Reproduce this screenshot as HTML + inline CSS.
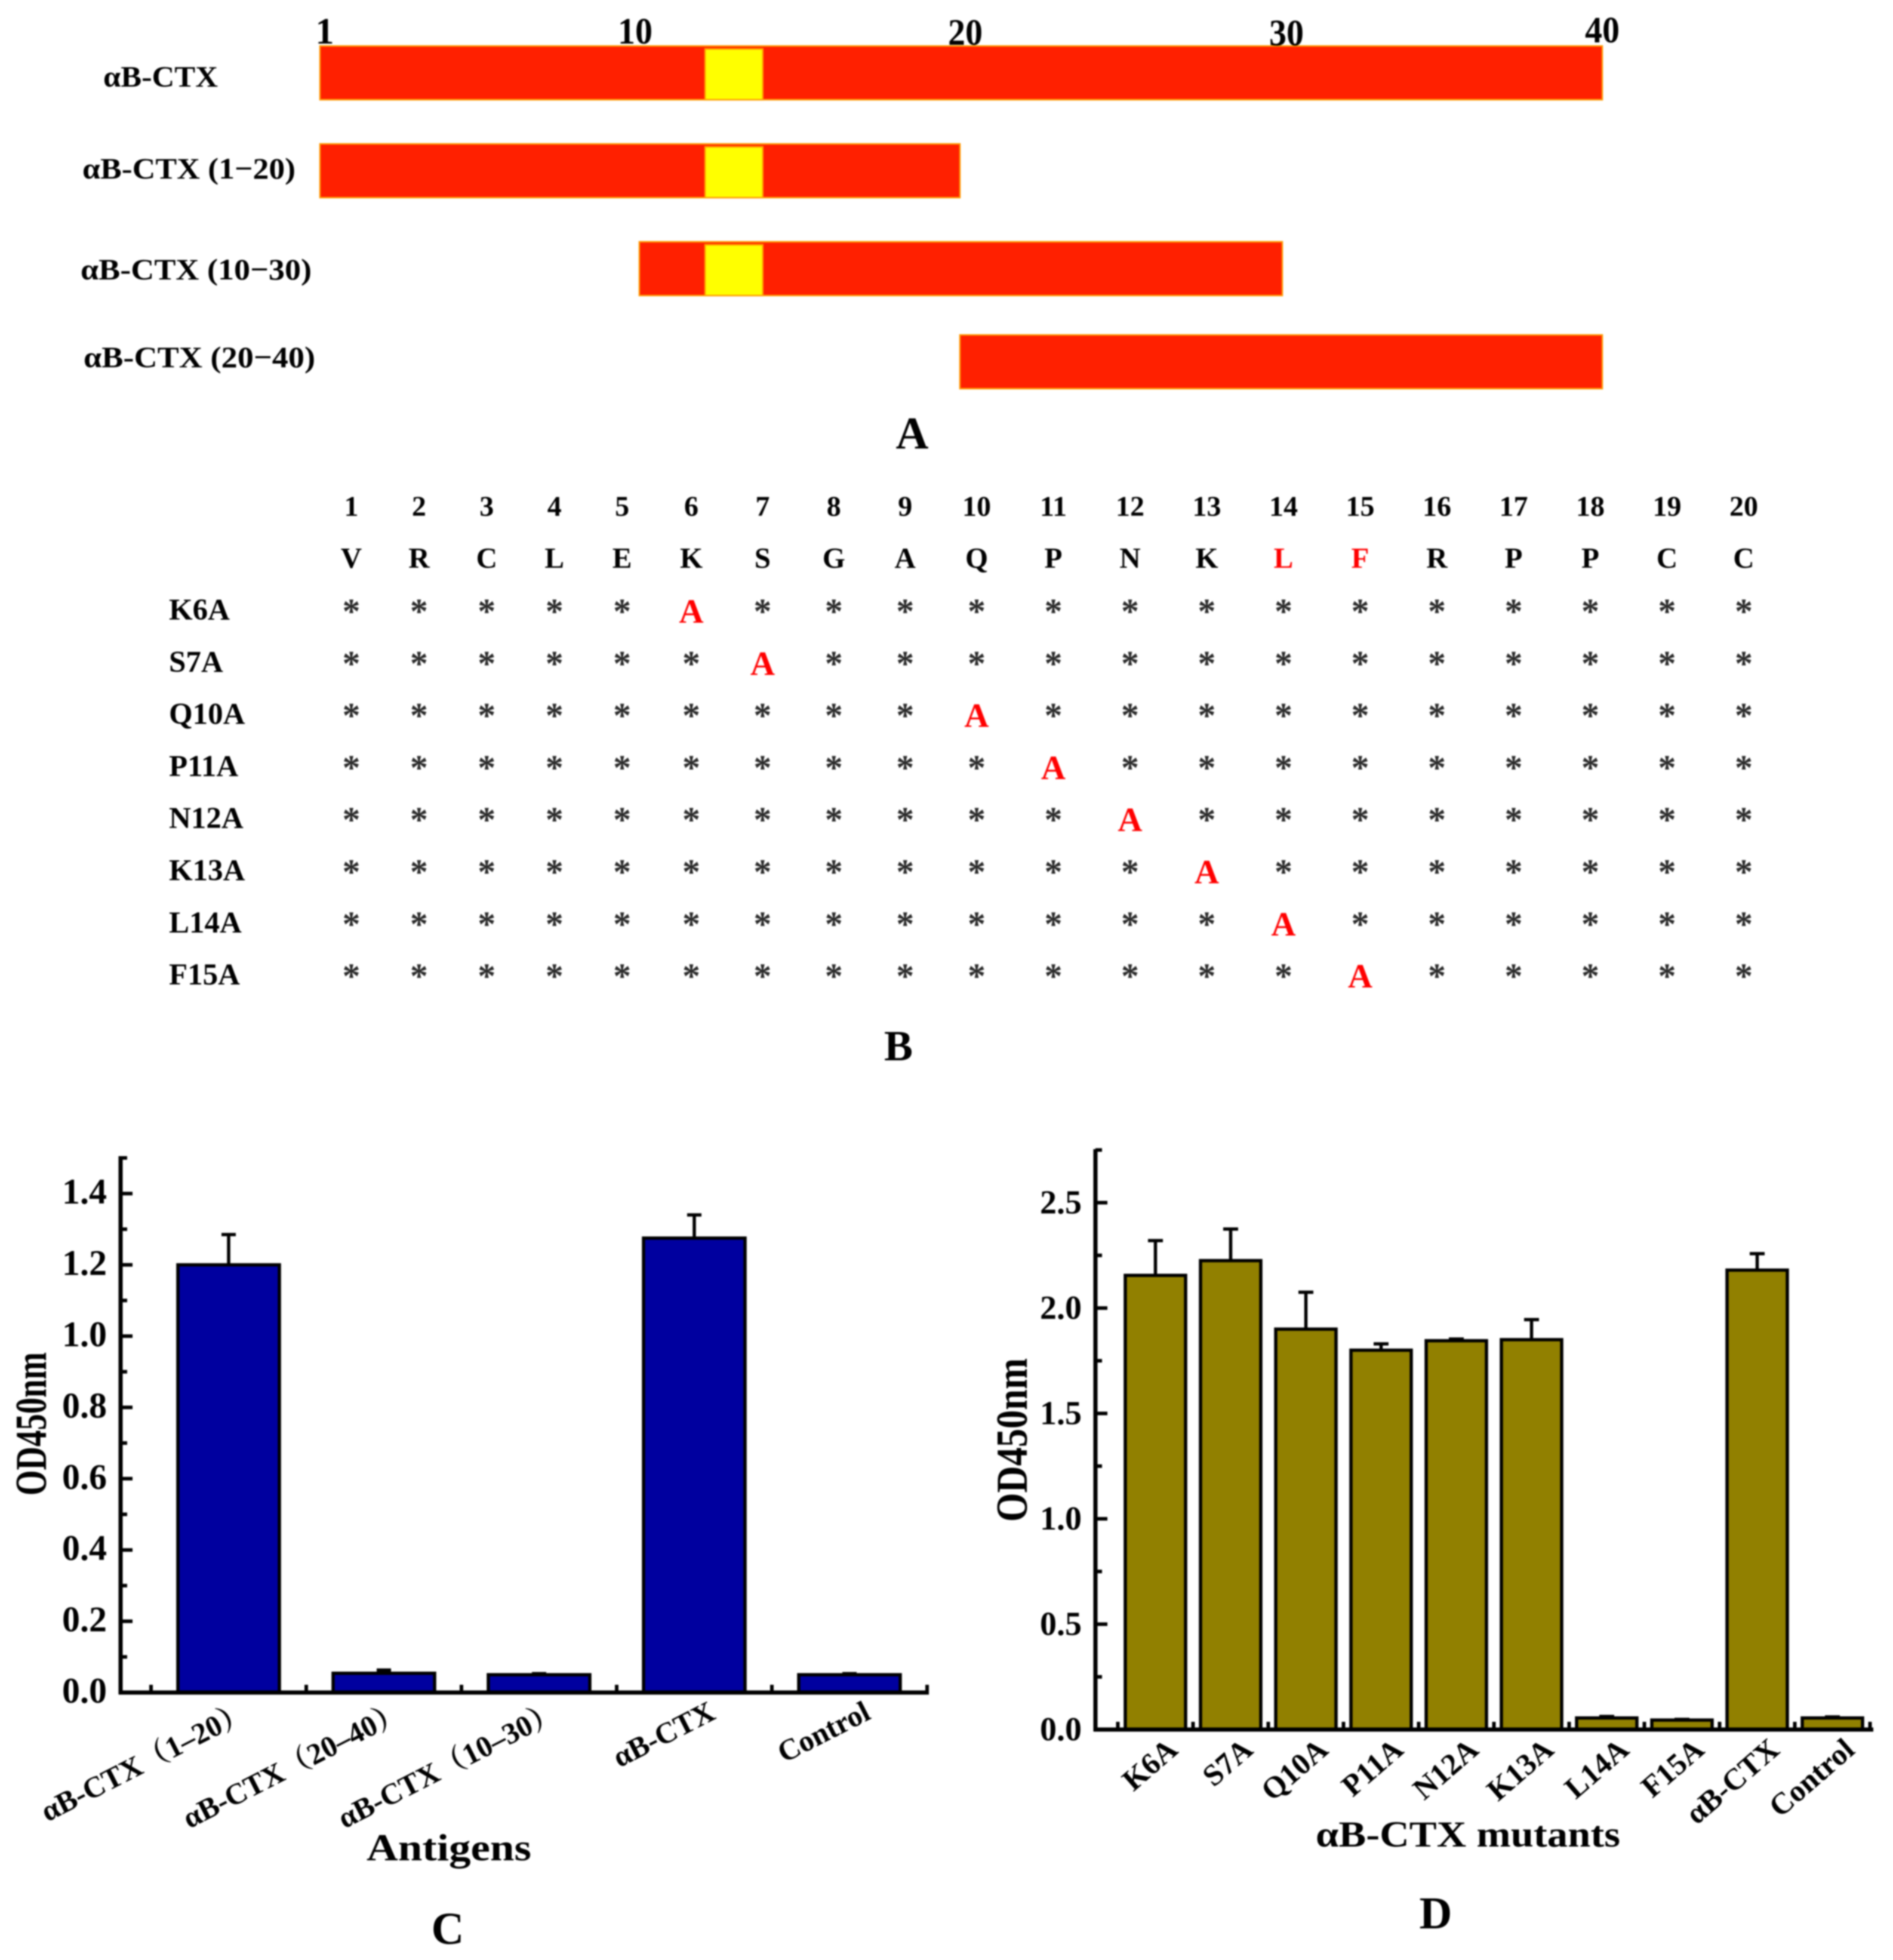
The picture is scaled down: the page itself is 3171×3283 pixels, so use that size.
<!DOCTYPE html>
<html lang="en">
<head>
<meta charset="utf-8">
<title>αB-CTX epitope mapping figure</title>
<style>
html,body{margin:0;padding:0;background:#fff;}
svg{display:block;filter:blur(1.4px);}
text{font-family:"Liberation Serif","Noto Serif CJK SC",serif;font-weight:bold;fill:#000;}
</style>
</head>
<body>
<svg id="fig" xmlns="http://www.w3.org/2000/svg" width="3171" height="3283" viewBox="0 0 3171 3283">
  <rect x="0" y="0" width="3171" height="3283" fill="#ffffff"/>
  <g id="panelA"></g>
  <g id="panelB"></g>
  <g id="panelC"></g>
  <g id="panelD"></g>

  <text x="1528" y="751" font-size="76" text-anchor="middle">A</text>
  <text x="1505" y="1776" font-size="72" text-anchor="middle">B</text>
  <text x="750" y="3256" font-size="76" text-anchor="middle">C</text>
  <text x="2405" y="3230" font-size="76" text-anchor="middle">D</text>

  <text transform="translate(77,2385) rotate(-90)" font-size="74" text-anchor="middle" textLength="240" lengthAdjust="spacingAndGlyphs">OD450nm</text>
  <text transform="translate(1720,2412) rotate(-90)" font-size="74" text-anchor="middle" textLength="274" lengthAdjust="spacingAndGlyphs">OD450nm</text>
  <text x="614" y="3116" font-size="63" textLength="276" lengthAdjust="spacingAndGlyphs">Antigens</text>
  <text x="2204" y="3093" font-size="61" textLength="510" lengthAdjust="spacingAndGlyphs">αB-CTX mutants</text>
</svg>
<script>
/* Panel A data */
var fragLabels = ["αB-CTX", "αB-CTX (1−20)", "αB-CTX (10−30)", "αB-CTX (20−40)"];
var fragStarts = [1, 1, 10, 20];
var fragEnds = [40, 20, 30, 40];
var fragHasEpitope = [true, true, true, false];
var epitopeStart = 12.05;
var epitopeEnd = 13.85;
var residueTicks = [1, 10, 20, 30, 40];

/* Panel B data */
var residueNumbers = ["1","2","3","4","5","6","7","8","9","10","11","12","13","14","15","16","17","18","19","20"];
var residueLetters = ["V","R","C","L","E","K","S","G","A","Q","P","N","K","L","F","R","P","P","C","C"];
var highlightedResidues = [14, 15];
var mutantNames = ["K6A","S7A","Q10A","P11A","N12A","K13A","L14A","F15A"];
var mutantResidues = [6, 7, 10, 11, 12, 13, 14, 15];

/* Panel C data */
var cCategories = ["αB-CTX（1–20）", "αB-CTX（20–40）", "αB-CTX（10–30）", "αB-CTX", "Control"];
var cValues = [1.2, 0.054, 0.05, 1.275, 0.05];
var cErrors = [0.085, 0.009, 0.003, 0.065, 0.003];
var cTickLabels = ["0.0", "0.2", "0.4", "0.6", "0.8", "1.0", "1.2", "1.4"];

/* Panel D data */
var dCategories = ["K6A", "S7A", "Q10A", "P11A", "N12A", "K13A", "L14A", "F15A", "αB-CTX", "Control"];
var dValues = [2.155, 2.225, 1.9, 1.8, 1.845, 1.85, 0.055, 0.045, 2.18, 0.055];
var dErrors = [0.165, 0.15, 0.175, 0.03, 0.008, 0.095, 0.007, 0.003, 0.078, 0.005];
var dTickLabels = ["0.0", "0.5", "1.0", "1.5", "2.0", "2.5"];

var NS = "http://www.w3.org/2000/svg";
function mk(tag, attrs, parent, txt) {
  var el = document.createElementNS(NS, tag);
  for (var k in attrs) { el.setAttribute(k, attrs[k]); }
  if (txt !== undefined) { el.textContent = txt; }
  parent.appendChild(el);
  return el;
}

/* ---------- Panel A ---------- */
var panelA = document.getElementById("panelA");
function aaX(n) {
  if (n <= 10) return 536 + (n - 1) * 59.44;
  if (n <= 20) return 1071 + (n - 10) * 53.7;
  if (n <= 30) return 1608 + (n - 20) * 54;
  return 2148 + (n - 30) * 53.6;
}
function rowTop(i) { return i < 3 ? 77 + 164 * i : 561; }
function tickLabelX(n) {
  if (n === 1) return aaX(n) + 8;
  if (n === 10) return aaX(n) - 7;
  if (n === 20) return aaX(n) + 9;
  if (n === 30) return aaX(n) + 7;
  return aaX(n);
}
function tickLabelY(n) {
  if (n === 1 || n === 10) return 73;
  if (n === 20) return 75;
  if (n === 30) return 76;
  return 71;
}
var aLabelLeft = [173, 138, 135, 140];
var aLabelLen = [192, 357, 387, 388];
var aLabelBase = [145, 299, 468, 615];
fragLabels.forEach(function (label, i) {
  var t = mk("text", {x: aLabelLeft[i], y: aLabelBase[i], "font-size": 50, textLength: aLabelLen[i], lengthAdjust: "spacingAndGlyphs"}, panelA, label);
  
  
  var x0 = aaX(fragStarts[i]), x1 = aaX(fragEnds[i]), y = rowTop(i);
  var r = mk("rect", {x: x0, y: y, width: x1 - x0, height: 90, fill: "#ff2000", stroke: "#ff9a00", "stroke-width": 2.5}, panelA);
  
  
  if (fragHasEpitope[i]) {
    var ex0 = aaX(epitopeStart), ex1 = aaX(epitopeEnd);
    var e = mk("rect", {x: ex0, y: y + 5, width: ex1 - ex0, height: 85, fill: "#ffff00", stroke: "#ffa000", "stroke-width": 2.5}, panelA);
    
    
  }
});
residueTicks.forEach(function (n) {
  var attrs = {x: tickLabelX(n), y: tickLabelY(n), "font-size": 62, "text-anchor": "middle"};
  if (n > 1) { attrs.textLength = 58; attrs.lengthAdjust = "spacingAndGlyphs"; }
  var t = mk("text", attrs, panelA, String(n));
  
  
});

/* ---------- Panel B ---------- */
var panelB = document.getElementById("panelB");
function colX(n) {
  if (n <= 5) return 588.5 + 113.4 * (n - 1);
  if (n <= 9) return 1158 + 119.4 * (n - 6);
  return 1636 + 128.5 * (n - 10);
}
function rowY(i) { return 1016 + 87.3 * i; }
residueNumbers.forEach(function (num, i) {
  var t = mk("text", {x: colX(i + 1), y: 864, "font-size": 48, "text-anchor": "middle"}, panelB, num);
  
  
  var hl = highlightedResidues.indexOf(i + 1) >= 0;
  var attrs = {x: colX(i + 1), y: 951, "font-size": 49, "text-anchor": "middle"};
  if (hl) { attrs.style = "fill:#ff0000"; }
  var l = mk("text", attrs, panelB, residueLetters[i]);
  
  
});
mutantNames.forEach(function (name, r) {
  var t = mk("text", {x: 283, y: rowY(r) + 22, "font-size": 51}, panelB, name);
  
  
  residueNumbers.forEach(function (num, c) {
    if (c + 1 === mutantResidues[r]) {
      var a = mk("text", {x: colX(c + 1), y: rowY(r) + 27, "font-size": 57, "text-anchor": "middle", style: "fill:#ff0000"}, panelB, "A");
      
      
    } else {
      var s = mk("text", {x: colX(c + 1), y: rowY(r) + 28, "font-size": 60, "text-anchor": "middle", style: "fill:#2a2a2a"}, panelB, "*");
      
      
    }
  });
});

/* ---------- Bar chart drawing ---------- */
function drawChart(o) {
  var g = o.group;
  o.values.forEach(function (v, i) {
    var cx = o.x(i), top = o.y(v + o.errors[i]);
    var st = mk("line", {x1: cx, x2: cx, y1: o.y(v), y2: top, stroke: "#000", "stroke-width": 5.5}, g);
    
    
    var cap = mk("line", {x1: cx - o.capW / 2, x2: cx + o.capW / 2, y1: top, y2: top, stroke: "#000", "stroke-width": 5.5}, g);
    
    
    var b = mk("rect", {x: cx - o.barW / 2, y: o.y(v), width: o.barW, height: o.y(0) - o.y(v), fill: o.fill, stroke: "#000", "stroke-width": 5.5}, g);
    
    
    var t = mk("text", {transform: "translate(" + (cx + o.labelDx) + "," + o.labelY + ") rotate(" + o.labelAngle + ")", "font-size": o.labelSize, "text-anchor": "end"}, g, o.categories[i]);
    
    
  });
  var ya = mk("line", {x1: o.axisX, x2: o.axisX, y1: o.y(o.yMax), y2: o.y(0) + 3, stroke: "#000", "stroke-width": 7}, g);
  
  
  var xa = mk("line", {x1: o.axisX - 3, x2: o.axisEnd, y1: o.y(0), y2: o.y(0), stroke: "#000", "stroke-width": 7}, g);
  
  
  var step = parseFloat(o.ticks[1]) - parseFloat(o.ticks[0]);
  o.ticks.forEach(function (lab) {
    var v = parseFloat(lab);
    var tk = mk("line", {x1: o.axisX, x2: o.axisX + 20, y1: o.y(v), y2: o.y(v), stroke: "#000", "stroke-width": 6}, g);
    
    
    var t = mk("text", {x: o.axisX - 23, y: o.y(v) + o.tickBase, "font-size": o.tickSize, "text-anchor": "end"}, g, lab);
    
    
    var mn = mk("line", {x1: o.axisX, x2: o.axisX + 11, y1: o.y(v + step / 2), y2: o.y(v + step / 2), stroke: "#000", "stroke-width": 6}, g);
    
    
  });
  for (var i = 0; i <= o.values.length; i++) {
    var tx = o.x(i - 0.5);
    var xt = mk("line", {x1: tx, x2: tx, y1: o.y(0), y2: o.y(0) - 13, stroke: "#000", "stroke-width": 6}, g);
    
    
  }
}

drawChart({
  group: document.getElementById("panelC"),
  categories: cCategories, values: cValues, errors: cErrors, ticks: cTickLabels,
  x: function (i) { return 383 + 260 * i; },
  y: function (v) { return 2835 - 597 * v; },
  yMax: 1.505, axisX: 202, axisEnd: 1556,
  barW: 170, capW: 24, fill: "#00009f",
  tickSize: 60, tickBase: 17,
  labelDx: 38, labelY: 2878, labelAngle: -27, labelSize: 50
});

drawChart({
  group: document.getElementById("panelD"),
  categories: dCategories, values: dValues, errors: dErrors, ticks: dTickLabels,
  x: function (i) { return 1935.5 + 126 * i; },
  y: function (v) { return 2897 - 353 * v; },
  yMax: 2.754, axisX: 1835, axisEnd: 3138,
  barW: 101, capW: 25, fill: "#918000",
  tickSize: 56, tickBase: 18,
  labelDx: 40, labelY: 2935, labelAngle: -41, labelSize: 51
});
</script>
</body>
</html>
